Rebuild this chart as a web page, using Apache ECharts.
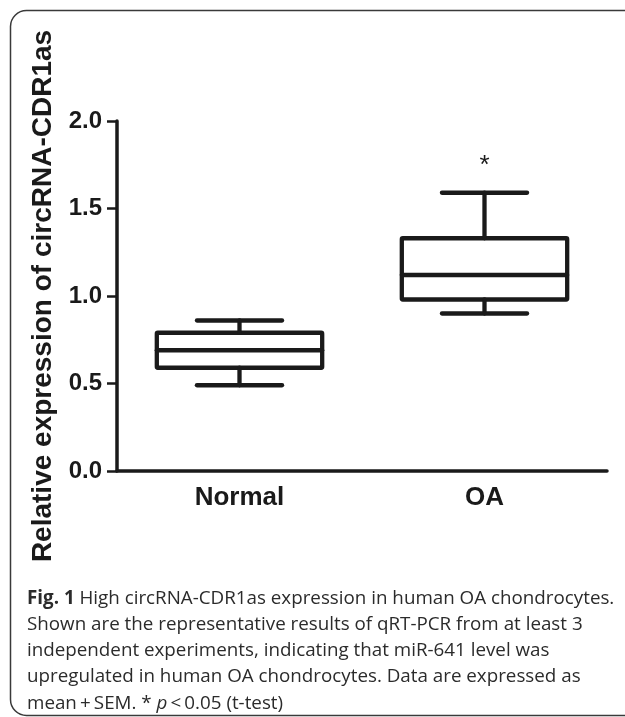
<!DOCTYPE html>
<html><head><meta charset="utf-8">
<script src="https://cdn.jsdelivr.net/npm/echarts@6/dist/echarts.min.js"></script>
<style>html,body{margin:0;padding:0;background:#fff}#chart{width:625px;height:717px}</style>
</head><body><div id="chart"></div>
<script>
// ---- data ----
const categories = ['Normal', 'OA'];
const whiskerLow = [0.49, 0.90];
const quartile1 = [0.59, 0.98];
const medians = [0.69, 1.12];
const quartile3 = [0.79, 1.33];
const whiskerHigh = [0.86, 1.59];
const significance = ['', '*'];
const yMin = 0, yMax = 2.0, yStep = 0.5;
const yTitle = 'Relative expression of circRNA-CDR1as';
const captionLines = [
  '{b|Fig. 1} High circRNA-CDR1as expression in human OA chondrocytes.',
  'Shown are the representative results of qRT-PCR from at least 3',
  'independent experiments, indicating that miR-641 level was',
  'upregulated in human OA chondrocytes. Data are expressed as',
  'mean\u2009+\u2009SEM. * {i|p}\u2009<\u20090.05 (t-test)'
];

const INK = '#1a1a1a';
const CAP = '#2b2b2b';
const CAPFS = 18.8;
const chart = echarts.init(document.getElementById('chart'));
const boxData = categories.map((c, i) => [i, whiskerLow[i], quartile1[i], medians[i], quartile3[i], whiskerHigh[i]]);

chart.setOption({
  animation: false,
  backgroundColor: '#fff',
  graphic: [{
    type: 'rect', left: 8, top: 8, z: -1,
    shape: { width: 650, height: 705, r: 16 },
    style: { fill: 'none', stroke: '#3a3a3a', lineWidth: 1.5 }
  }],
  title: {
    left: 22, top: 580,
    text: captionLines.join('\n'),
    textStyle: {
      fontFamily: 'Open Sans', fontSize: CAPFS, fontWeight: 'normal', color: CAP, lineHeight: 26.3,
      rich: {
        b: { fontFamily: 'Open Sans', fontSize: CAPFS, fontWeight: 'bold', color: CAP, lineHeight: 26.3 },
        i: { fontFamily: 'Open Sans', fontSize: CAPFS, fontStyle: 'italic', color: CAP, lineHeight: 26.3 }
      }
    }
  },
  grid: { left: 117, top: 121, width: 490, height: 350, containLabel: false },
  xAxis: {
    type: 'category', data: categories, boundaryGap: true,
    axisLine: { lineStyle: { color: INK, width: 3.5 } },
    axisTick: { alignWithLabel: true, length: 10, lineStyle: { color: INK, width: 2.5 } },
    axisLabel: { margin: 14, color: INK, fontFamily: 'Liberation Sans, Arial', fontWeight: 'bold', fontSize: 26 },
    splitLine: { show: false }
  },
  yAxis: {
    type: 'value', min: yMin, max: yMax, interval: yStep,
    name: yTitle, nameLocation: 'middle', nameRotate: 90, nameGap: 60,
    nameTextStyle: { color: INK, fontFamily: 'Liberation Sans, Arial', fontWeight: 'bold', fontSize: 28 },
    axisLine: { show: true, lineStyle: { color: INK, width: 3.5 } },
    axisTick: { show: true, length: 10, lineStyle: { color: INK, width: 2.5 } },
    axisLabel: { margin: 15, color: INK, fontFamily: 'Liberation Sans, Arial', fontWeight: 'bold', fontSize: 24,
      formatter: v => v.toFixed(1) },
    splitLine: { show: false }
  },
  series: [{
    type: 'custom',
    data: boxData,
    encode: { x: 0, y: [1, 2, 3, 4, 5] },
    renderItem: function (params, api) {
      const i = api.value(0);
      const cx = api.coord([i, 0])[0];
      const band = api.size([1, 0])[0];
      const boxW = band * 0.675;
      const capW = boxW * 0.515;
      const yLo = api.coord([i, api.value(1)])[1];
      const yQ1 = api.coord([i, api.value(2)])[1];
      const yMed = api.coord([i, api.value(3)])[1];
      const yQ3 = api.coord([i, api.value(4)])[1];
      const yHi = api.coord([i, api.value(5)])[1];
      const st = { stroke: INK, lineWidth: 4.3, fill: null, lineCap: 'round', lineJoin: 'round' };
      const line = (x1, y1, x2, y2) => ({ type: 'line', shape: { x1, y1, x2, y2 }, style: st });
      const children = [
        { type: 'rect', shape: { x: cx - boxW / 2, y: yQ3, width: boxW, height: yQ1 - yQ3, r: 1 }, style: st },
        line(cx - boxW / 2, yMed, cx + boxW / 2, yMed),
        line(cx, yQ3, cx, yHi),
        line(cx, yQ1, cx, yLo),
        line(cx - capW / 2, yHi, cx + capW / 2, yHi),
        line(cx - capW / 2, yLo, cx + capW / 2, yLo)
      ];
      const sig = significance[params.dataIndex];
      if (sig) {
        children.push({ type: 'text', style: { text: sig, x: cx, y: yHi - 27, align: 'center', verticalAlign: 'middle',
          fill: INK, font: 'normal 26px "Liberation Sans", Arial' } });
      }
      return { type: 'group', children };
    }
  }]
});
</script></body></html>
